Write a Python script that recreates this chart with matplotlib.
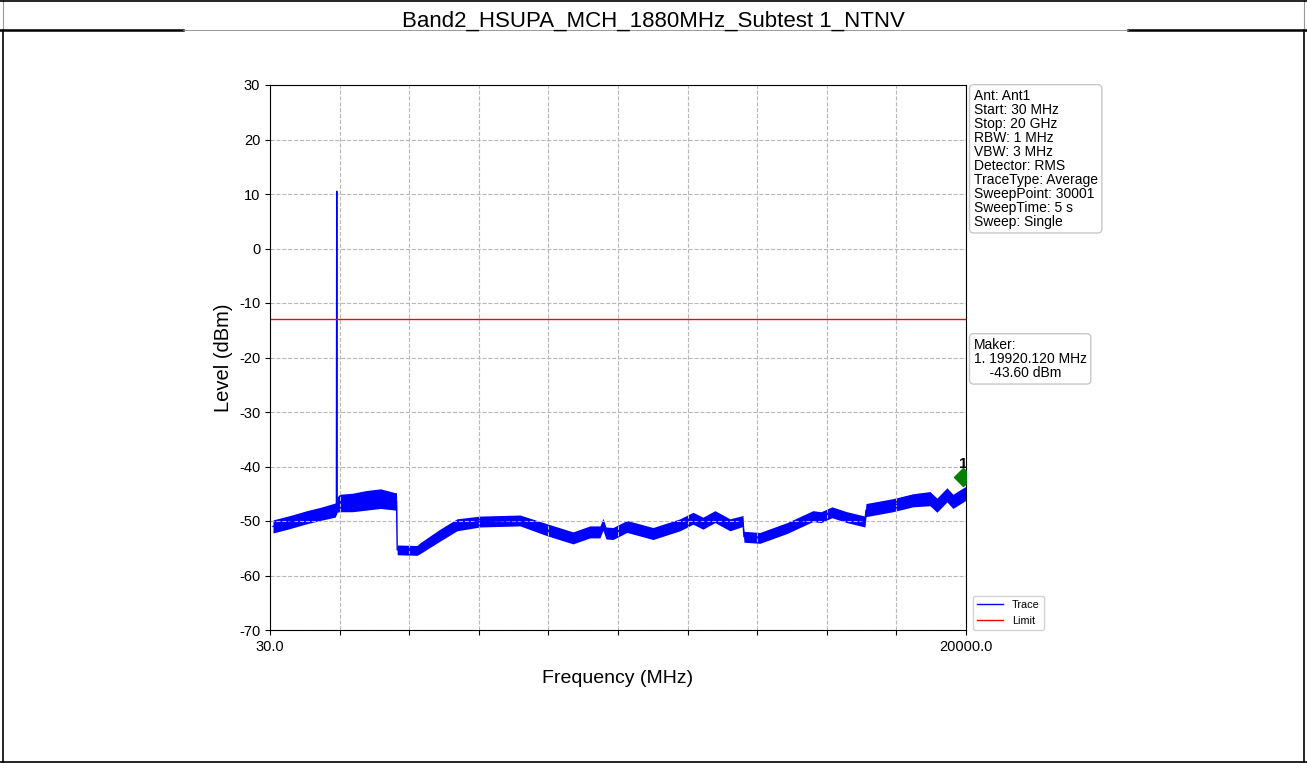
import numpy as np
import matplotlib
matplotlib.use("Agg")
import matplotlib.pyplot as plt
from matplotlib.lines import Line2D

plt.rcParams['font.family'] = ['Liberation Sans', 'DejaVu Sans']
plt.rcParams['axes.unicode_minus'] = False

# trace (MHz, dBm) - centre of the noise band
freq = [116, 600, 1090, 1470, 1900, 1935, 1945, 1955, 2030, 2400, 2800, 3200, 3616, 3660,
        3680, 4247, 4334, 4907, 5395, 6055, 7203, 7977, 8723, 9211, 9498, 9584, 9670,
        9871, 10272, 11018, 11793, 12166, 12453, 12797, 13227, 13600, 13629, 14088,
        14862, 15608, 15838, 16154, 16584, 17101, 17130, 17904, 18478, 18965, 19166,
        19453, 19625, 20000]
level = [-51.0, -50.2, -49.3, -48.7, -48.0, -47.5, 10.5, -47.0, -46.7, -46.6, -46.2, -45.9, -46.4, -46.4,
         -55.3, -55.4, -55.0, -52.6, -50.7, -50.1, -49.9, -51.6, -53.1, -52.0, -52.0, -50.6, -52.2,
         -52.3, -51.0, -52.3, -50.7, -49.5, -50.4, -49.2, -50.7, -50.0, -52.9, -53.1,
         -51.3, -49.1, -49.3, -48.4, -49.3, -50.1, -48.0, -47.1, -46.2, -45.9, -47.1,
         -45.2, -46.4, -44.9]
# half thickness of the noise band (dB)
spread = [1.2, 1.2, 1.2, 1.2, 1.3, 1.3, 1.3, 1.4, 1.6, 1.7, 1.8, 1.8, 1.6, 1.6,
          0.9, 0.9, 1.0, 1.1, 1.1, 1.0, 1.0, 1.1, 1.1, 1.1, 1.1, 1.1, 1.1,
          1.1, 1.1, 1.1, 1.1, 1.1, 1.1, 1.1, 1.1, 1.0, 1.0, 1.0,
          1.0, 1.0, 1.0, 1.0, 1.0, 1.0, 1.2, 1.2, 1.2, 1.3, 1.3,
          1.3, 1.3, 1.3]

limit_level = -13
marker_freq = 19920.120
marker_level = -42.0

info_text = ("Ant: Ant1\nStart: 30 MHz\nStop: 20 GHz\nRBW: 1 MHz\nVBW: 3 MHz\n"
             "Detector: RMS\nTraceType: Average\nSweepPoint: 30001\nSweepTime: 5 s\nSweep: Single")
maker_text = "Maker:\n1. 19920.120 MHz\n    -43.60 dBm"

fig = plt.figure(figsize=(13.07, 7.63), dpi=100)
ax = fig.add_axes([270/1307, 1-630/763, 696/1307, 545/763])

f = np.array(freq)
lv = np.array(level)
sp = np.array(spread)
base = lv.copy()
base[6] = -47.3  # spike point: band follows the floor
ax.fill_between(f, base - sp, base + sp, color='blue', lw=0)
ax.plot(f, lv, color='blue', lw=1, label='Trace')
ax.axhline(limit_level, color='red', lw=1, label='Limit')

ax.plot(marker_freq, marker_level, marker='D', color='green', ms=9, zorder=5)
ax.text(marker_freq, marker_level + 1.2, "1", ha='center', va='bottom', fontsize=11,
        fontweight='bold', clip_on=True)

ax.set_xlim(30, 20000)
ax.set_ylim(-70, 30)
xt = np.linspace(30, 20000, 11)
ax.set_xticks(xt)
ax.set_xticklabels(['30.0'] + [''] * 9 + ['20000.0'], fontsize=10.5)
ax.set_yticks(np.arange(-70, 31, 10))
ax.tick_params(axis='y', labelsize=10.5)
ax.grid(True, ls='--', color='#b8b8b8', lw=0.8)
ax.set_xlabel("Frequency (MHz)", fontsize=14, labelpad=12)
ax.set_ylabel("Level (dBm)", fontsize=14.5)

props = dict(boxstyle='round,pad=0.3', facecolor='white', edgecolor='#c8c8c8')
ax.text(1.011, 0.993, info_text, transform=ax.transAxes, va='top', ha='left',
        fontsize=10, linespacing=1.0, bbox=props)
ax.text(1.011, 0.536, maker_text, transform=ax.transAxes, va='top', ha='left',
        fontsize=10, linespacing=1.0, bbox=props)
ax.legend(loc='lower left', bbox_to_anchor=(1.002, -0.01), fontsize=7.8, handlelength=2.4,
          edgecolor='#c8c8c8')

fig.text(0.5, 1-27/763, "Band2_HSUPA_MCH_1880MHz_Subtest 1_NTNV", ha='center', va='baseline', fontsize=16)

# table frame around the figure
W, H = 1307, 763
fig.add_artist(Line2D([3/W, 3/W], [0, 1-30/H], color='black', lw=1.2))
fig.add_artist(Line2D([1304/W, 1304/W], [0, 1-30/H], color='black', lw=1.2))
fig.add_artist(Line2D([3/W, 3/W], [1-30/H, 1], color='#999999', lw=0.8))
fig.add_artist(Line2D([1304/W, 1304/W], [1-30/H, 1], color='#999999', lw=0.8))
fig.add_artist(Line2D([0, 1], [1/H, 1/H], color='black', lw=1.2))
fig.add_artist(Line2D([0, 1], [1-1/H, 1-1/H], color='black', lw=1.2))
fig.add_artist(Line2D([0, 183/W], [1-30/H, 1-30/H], color='black', lw=1.8))
fig.add_artist(Line2D([1128/W, 1], [1-30/H, 1-30/H], color='black', lw=1.8))
fig.add_artist(Line2D([183/W, 1128/W], [1-30/H, 1-30/H], color='#888888', lw=0.6))

fig.savefig("out.png", dpi=100)
